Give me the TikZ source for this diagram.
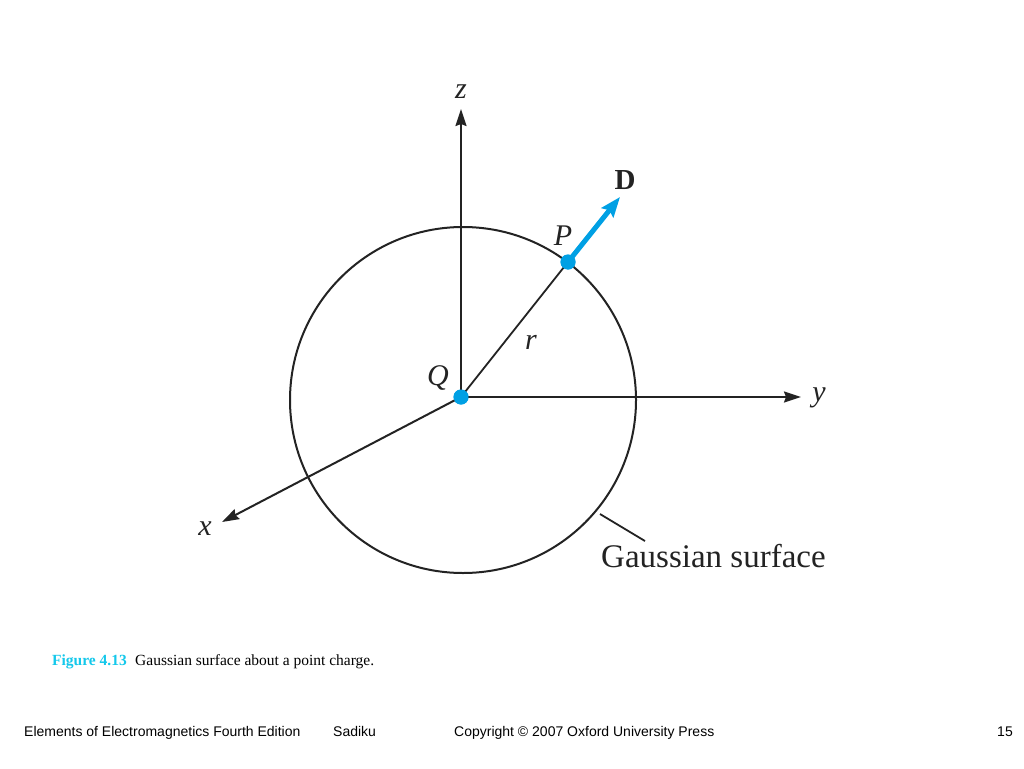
\documentclass[tikz,border=0pt]{standalone}
\usepackage{fontspec}
\setmainfont{Liberation Serif}
\newfontfamily\arialfont{Liberation Sans}
\usetikzlibrary{arrows.meta}
\definecolor{dblue}{RGB}{0,160,228}
\definecolor{ink}{RGB}{35,35,35}
\definecolor{capcyan}{RGB}{20,200,235}
\begin{document}
\begin{tikzpicture}[x=1pt,y=-1pt,
  axisline/.style={draw=ink,line width=2pt,-{Stealth[length=17pt,width=11pt,inset=2pt]}},
  leaderline/.style={draw=ink,line width=1.8pt},
  chargedot/.style={circle,fill=dblue,inner sep=0pt,minimum size=15pt},
  lbl/.style={font=\fontsize{30}{36}\selectfont\itshape,text=ink,inner sep=0pt},
  captext/.style={font=\fontsize{15.5}{18}\selectfont,inner sep=0pt,anchor=base west},
  foottext/.style={font=\arialfont\fontsize{14}{17}\selectfont,inner sep=0pt,anchor=base west}]
\useasboundingbox (0,0) rectangle (1024,768);
\fill[white] (0,0) rectangle (1024,768);
% Gaussian surface
\draw[ink,line width=2pt] (463,400) circle (173);
% charge and point
\node[chargedot] (Q) at (461,397) {};
\node[chargedot] (P) at (568,262) {};
\coordinate (ztip) at (461,109);
\coordinate (ytip) at (801,397);
\coordinate (xtip) at (222,522);
\coordinate (Dtip) at (620,197);
\draw[axisline] (Q.center) -- (ztip);
\draw[axisline] (Q.center) -- (ytip);
\draw[axisline] (Q.center) -- (xtip);
\draw[leaderline] (Q.center) -- (P.center);
\draw[dblue,line width=5pt,-{Stealth[length=20pt,width=15pt,inset=3pt]}] (P.center) -- (Dtip);
\node[chargedot] at (Q.center) {};
\node[chargedot] at (P.center) {};
% labels
\node[lbl] (zl) at (461,92) {z};
\node[lbl] (yl) at (819,398) {y};
\node[lbl] (xl) at (205,529) {x};
\node[lbl] (Pl) at (563,236) {P};
\node[lbl] (Ql) at (438,378) {Q};
\node[lbl] (rl) at (531,342) {r};
\node[font=\fontsize{29}{34}\selectfont\bfseries,text=ink,inner sep=0pt] (Dl) at (625,180) {D};
% leader
\coordinate (gs1) at (600,514);
\coordinate (gs2) at (645,541);
\draw[leaderline] (gs1) -- (gs2);
\node[font=\fontsize{33}{40}\selectfont,text=ink,inner sep=0pt,anchor=base west] (gs) at (601,567) {Gaussian surface};
% caption
\node[captext,text=capcyan,font=\fontsize{15.5}{18}\selectfont\bfseries] (fig) at (52,665) {Figure 4.13};
\node[captext] (captxt) at (135,665) {Gaussian surface about a point charge.};
% footer
\node[foottext] (f1) at (24,736) {Elements of Electromagnetics Fourth Edition};
\node[foottext] (f2) at (333,736) {Sadiku};
\node[foottext] (f3) at (454,736) {Copyright © 2007 Oxford University Press};
\node[foottext,anchor=base east] (f4) at (1013,736) {15};
\end{tikzpicture}
\end{document}
